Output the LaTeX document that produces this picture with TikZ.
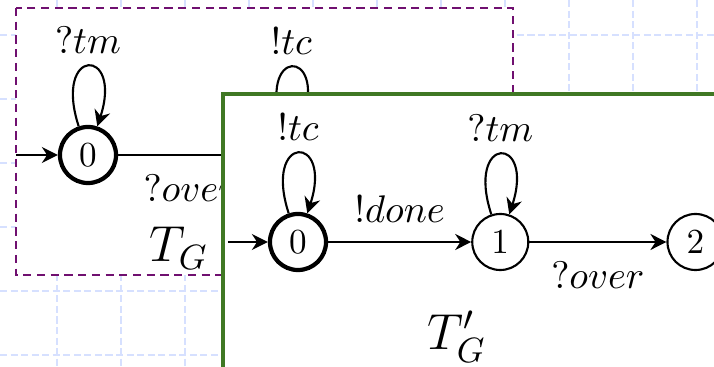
\documentclass[tikz,border=0pt]{standalone}
\usepackage{amsmath}
\usetikzlibrary{arrows.meta, positioning}
\definecolor{tgpurple}{RGB}{112,16,112}
\definecolor{tggreen}{RGB}{64,120,36}
\definecolor{gridblue}{RGB}{214,224,255}

\begin{document}
\begin{tikzpicture}[x=0.01cm, y=-0.01cm,
    state/.style={circle, draw, semithick, minimum size=0.56cm, inner sep=0pt},
    initstate/.style={state, very thick},
    arrow/.style={-{Stealth[length=1.6mm, width=1.6mm]}, semithick},
    lbl/.style={font=\fontsize{11}{13}\selectfont},
    gridline/.style={gridblue, line width=0.35pt, dash pattern=on 2pt off 1pt},
    oldbox/.style={draw=tgpurple, fill=white, semithick, dash pattern=on 2.3pt off 1.6pt},
    newbox/.style={draw=tggreen, fill=white, line width=1pt},
    autname/.style={font=\Large}
]
    \useasboundingbox (0,0) rectangle (714,367);
    \clip (0,0) rectangle (714,367);

    % background grid
    \foreach \gx in {57,121,...,697} \draw[gridline] (\gx,0) -- (\gx,367);
    \foreach \gy in {35,99,...,355} \draw[gridline] (0,\gy) -- (714,\gy);

    % T_G (its second state lies under T_G')
    \draw[oldbox] (16,8) rectangle (513,275);
    \node[initstate] (q0) at (88,155) {$0$};
    \node[state, right=1.44cm of q0] (q1) {};
    \coordinate[left=0.42cm of q0] (q0in);
    \node[autname] (tg) at (179,248) {$T_G$};

    \draw[arrow] (q0in) -- (q0);
    \draw[arrow] (q0.108) .. controls +(108:0.84cm) and +(72:0.84cm) .. node[lbl, above] {$?tm$} (q0.72);
    \draw[arrow] (q1.108) .. controls +(108:0.84cm) and +(72:0.84cm) .. node[lbl, above] {$!tc$} (q1.72);
    \draw[arrow] (q0) -- node[lbl, below=2pt] {$?over$} (q1);

    % T_G'
    \draw[newbox] (223,94) rectangle (760,420);
    \node[initstate] (s0) at (298,242) {$0$};
    \node[state, right=1.43cm of s0] (s1) {$1$};
    \node[state, right=1.37cm of s1] (s2) {$2$};
    \coordinate[left=0.4cm of s0] (s0in);
    \node[autname] (tgp) at (457,337) {$T'_G$};

    \draw[arrow] (s0in) -- (s0);
    \draw[arrow] (s0.108) .. controls +(108:0.84cm) and +(72:0.84cm) .. node[lbl, above] {$!tc$} (s0.72);
    \draw[arrow] (s1.108) .. controls +(108:0.84cm) and +(72:0.84cm) .. node[lbl, above] {$?tm$} (s1.72);
    \draw[arrow] (s0) -- node[lbl, above=2pt] {$!done$} (s1);
    \draw[arrow] (s1) -- node[lbl, below=2pt] {$?over$} (s2);
\end{tikzpicture}
\end{document}
